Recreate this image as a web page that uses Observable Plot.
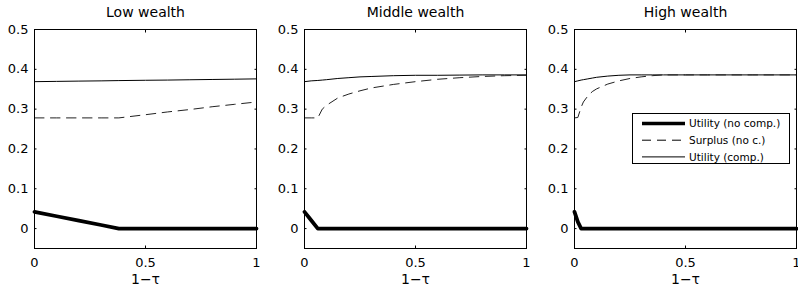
<!DOCTYPE html>
<html>
<head>
<meta charset="utf-8">
<script src="https://cdn.jsdelivr.net/npm/d3@7"></script>
<script src="https://cdn.jsdelivr.net/npm/@observablehq/plot@0.6"></script>
<style>
  body { margin: 0; background: #fff; }
  #wrap { position: relative; width: 798px; height: 296px; font-family: "DejaVu Sans", Arial, sans-serif; }
  #legend { position: absolute; left: 632px; top: 113px; }
</style>
</head>
<body>
<div id="wrap"><div id="chart"></div><div id="legend"></div></div>
<script>
// ---- data ----
const panels = ["Low wealth", "Middle wealth", "High wealth"];
const seriesNames = ["Utility (no comp.)", "Surplus (no c.)", "Utility (comp.)"];

const lowX          = [0, 0.1, 0.2, 0.3, 0.38, 0.5, 0.6, 0.7, 0.8, 0.9, 1.0];
const lowUtilNoComp = [0.042, 0.031, 0.020, 0.009, 0, 0, 0, 0, 0, 0, 0];
const lowSurplus    = [0.278, 0.278, 0.278, 0.278, 0.278, 0.286, 0.293, 0.299, 0.306, 0.312, 0.318];
const lowUtilComp   = [0.369, 0.3697, 0.3704, 0.371, 0.3717, 0.3725, 0.373, 0.3738, 0.3745, 0.3752, 0.376];

const midX          = [0, 0.03, 0.06, 0.08, 0.1, 0.15, 0.2, 0.25, 0.3, 0.4, 0.5, 0.6, 0.7, 0.8, 0.9, 1.0];
const midUtilNoComp = [0.042, 0.021, 0, 0, 0, 0, 0, 0, 0, 0, 0, 0, 0, 0, 0, 0];
const midSurplus    = [0.278, 0.278, 0.278, 0.300, 0.310, 0.328, 0.338, 0.346, 0.353, 0.362, 0.369, 0.375, 0.379, 0.382, 0.384, 0.385];
const midUtilComp   = [0.369, 0.371, 0.372, 0.373, 0.374, 0.377, 0.379, 0.381, 0.382, 0.384, 0.385, 0.385, 0.3855, 0.386, 0.386, 0.386];

const highX          = [0, 0.015, 0.03, 0.04, 0.06, 0.08, 0.1, 0.15, 0.2, 0.25, 0.3, 0.35, 0.4, 0.5, 0.6, 0.8, 1.0];
const highUtilNoComp = [0.042, 0.017, 0, 0, 0, 0, 0, 0, 0, 0, 0, 0, 0, 0, 0, 0, 0];
const highSurplus    = [0.278, 0.279, 0.305, 0.318, 0.333, 0.344, 0.351, 0.363, 0.371, 0.377, 0.381, 0.384, 0.386, 0.386, 0.386, 0.386, 0.386];
const highUtilComp   = [0.369, 0.371, 0.373, 0.374, 0.376, 0.378, 0.380, 0.383, 0.385, 0.386, 0.386, 0.386, 0.386, 0.386, 0.386, 0.386, 0.386];

const yTicks = [0, 0.1, 0.2, 0.3, 0.4, 0.5];
const yTickLabels = ["0", "0.1", "0.2", "0.3", "0.4", "0.5"];
const xTicks = [0, 0.5, 1];
const xTickLabels = ["0", "0.5", "1"];
const xLabel = "1\u2212\u03c4";

// ---- tidy table ----
const panelData = [
  [lowX, lowUtilNoComp, lowSurplus, lowUtilComp],
  [midX, midUtilNoComp, midSurplus, midUtilComp],
  [highX, highUtilNoComp, highSurplus, highUtilComp]
];
const rows = [];
panelData.forEach(([xs, a, b, c], pi) => {
  [a, b, c].forEach((ys, si) => {
    xs.forEach((x, i) => rows.push({panel: panels[pi], series: seriesNames[si], x, y: ys[i]}));
  });
});
const bySeries = s => rows.filter(d => d.series === s);

const font = '"DejaVu Sans", Arial, sans-serif';

const chart = Plot.plot({
  width: 798,
  height: 296,
  marginLeft: 33,
  marginRight: 1,
  marginTop: 29,
  marginBottom: 48,
  style: {fontFamily: font, fontSize: "13px", background: "#fff", color: "#000", overflow: "visible"},
  fx: {domain: panels, paddingInner: 0.179, paddingOuter: 0, label: null},
  x: {domain: [0, 1], label: null},
  y: {domain: [-0.05, 0.5], label: null},
  marks: [
    Plot.axisFx({anchor: "top", tickSize: 0, tickPadding: 13, label: null, fontSize: 14}),
    Plot.axisY({ticks: yTicks, tickFormat: d => yTickLabels[yTicks.indexOf(d)], tickSize: 0, tickPadding: 6, facetAnchor: null, label: null}),
    Plot.axisY({ticks: yTicks, tickFormat: () => "", tickSize: -2.5, facetAnchor: null, label: null}),
    Plot.axisY({anchor: "right", ticks: yTicks, tickFormat: () => "", tickSize: -2.5, facetAnchor: null, label: null}),
    Plot.axisX({ticks: xTicks, tickFormat: d => xTickLabels[xTicks.indexOf(d)], tickSize: 0, tickPadding: 9, label: null}),
    Plot.axisX({ticks: xTicks, tickFormat: () => "", tickSize: -2.5, label: null}),
    Plot.axisX({anchor: "top", ticks: xTicks, tickFormat: () => "", tickSize: -2.5, facetAnchor: null, label: null}),
    Plot.text(panels, {fx: d => d, text: () => xLabel, frameAnchor: "bottom", dy: 35, fontSize: 14}),
    Plot.line(bySeries(seriesNames[2]), {x: "x", y: "y", fx: "panel", stroke: "#000", strokeWidth: 1}),
    Plot.line(bySeries(seriesNames[1]), {x: "x", y: "y", fx: "panel", stroke: "#222", strokeWidth: 1, strokeDasharray: "9.5,6.5"}),
    Plot.line(bySeries(seriesNames[0]), {x: "x", y: "y", fx: "panel", stroke: "#000", strokeWidth: 3.8}),
    Plot.frame({stroke: "#000", strokeWidth: 1})
  ]
});
document.getElementById("chart").appendChild(chart);

// ---- legend ----
const lw = 158, lh = 51;
const leg = d3.select("#legend").append("svg").attr("width", lw).attr("height", lh)
  .style("font-family", font).style("font-size", "10.5px");
leg.append("rect").attr("x", 0.5).attr("y", 0.5).attr("width", lw - 1).attr("height", lh - 1)
  .attr("fill", "#fff").attr("stroke", "#000");
const legStyles = [
  {w: 3.5, dash: null},
  {w: 1, dash: "9,6"},
  {w: 1, dash: null}
];
seriesNames.forEach((name, i) => {
  const cy = 10.5 + i * 16.7;
  leg.append("line").attr("x1", 10).attr("x2", 53).attr("y1", cy).attr("y2", cy)
    .attr("stroke", "#000").attr("stroke-width", legStyles[i].w)
    .attr("stroke-dasharray", legStyles[i].dash);
  leg.append("text").attr("x", 57).attr("y", cy).attr("dy", "0.35em").text(name);
});
</script>
</body>
</html>
